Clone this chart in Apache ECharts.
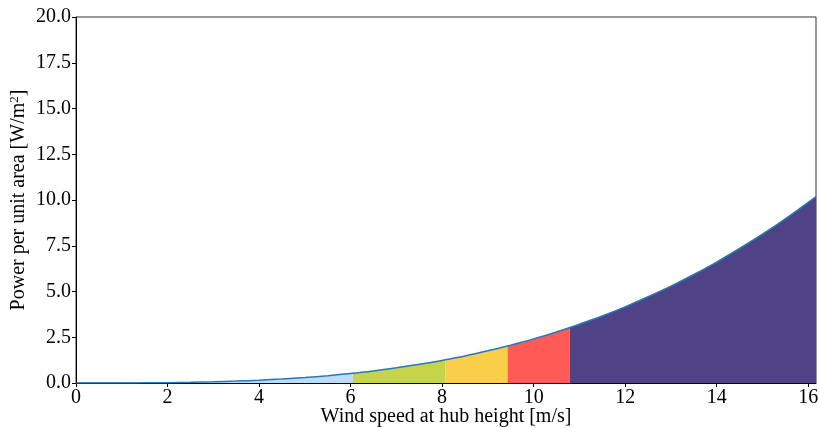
<!DOCTYPE html>
<html>
<head>
<meta charset="utf-8">
<script src="https://cdn.jsdelivr.net/npm/echarts@6/dist/echarts.min.js"></script>
<style>html,body{margin:0;padding:0;background:#fff}#c{width:819px;height:428px}</style>
</head>
<body>
<div id="c"></div>
<script>
// Wind speed [m/s] and power per unit area [W/m^2]
var windSpeed = [0, 0.5, 1, 1.5, 2, 2.5, 3, 3.5, 4, 4.5, 5, 5.5, 6, 6.05, 6.5, 7, 7.5, 8, 8.07, 8.5, 9, 9.43, 9.5, 10, 10.5, 10.79, 11, 11.5, 12, 12.5, 13, 13.5, 14, 14.5, 15, 15.5, 16, 16.17];
var power = [0, 0.0003, 0.002, 0.008, 0.019, 0.038, 0.065, 0.103, 0.154, 0.22, 0.30, 0.40, 0.52, 0.535, 0.66, 0.83, 1.02, 1.23, 1.27, 1.48, 1.76, 2.02, 2.07, 2.41, 2.79, 3.03, 3.21, 3.66, 4.16, 4.71, 5.29, 5.93, 6.61, 7.35, 8.13, 8.97, 9.87, 10.19];
// Band edges along the wind-speed axis
var bandEdges = [0, 6.05, 8.07, 9.43, 10.79, 16.17];
var bandColors = ['#bcdcf7', '#c6d44a', '#fbce4a', '#fe5a56', '#4f4287'];
var xTicks = [0, 2, 4, 6, 8, 10, 12, 14, 16];
var yTicks = [0, 2.5, 5, 7.5, 10, 12.5, 15, 17.5, 20];

var chart = echarts.init(document.getElementById('c'), null, {renderer: 'canvas'});
var font = 'Liberation Serif';
var curve = windSpeed.map(function (v, i) { return [v, power[i]]; });
var series = [];
for (var b = 0; b < bandColors.length; b++) {
  var lo = bandEdges[b], hi = bandEdges[b + 1];
  series.push({
    type: 'line',
    data: curve.filter(function (p) { return p[0] >= lo - 1e-9 && p[0] <= hi + 1e-9; }),
    smooth: 0.3,
    symbol: 'none',
    lineStyle: {width: 0},
    areaStyle: {color: bandColors[b], opacity: 1},
    silent: true,
    z: 1
  });
}
series.push({
  type: 'line',
  data: curve,
  smooth: 0.3,
  symbol: 'none',
  lineStyle: {width: 1.5, color: '#2878b8'},
  z: 3
});

chart.setOption({
  animation: false,
  backgroundColor: '#fff',
  grid: {left: 76, right: 3, top: 17, bottom: 45, outerBoundsMode: 'none', containLabel: false,
    show: true, borderColor: '#333', borderWidth: 1, backgroundColor: 'transparent'},
  xAxis: {
    type: 'value', min: xTicks[0], max: bandEdges[bandEdges.length - 1], interval: 2,
    name: 'Wind speed at hub height [m/s]', nameLocation: 'middle', nameGap: 24, nameMoveOverlap: false,
    nameTextStyle: {fontFamily: font, fontSize: 20, color: '#000'},
    axisLine: {show: true, lineStyle: {color: '#000', width: 1}},
    axisTick: {show: true, inside: false, length: 4, lineStyle: {color: '#000'}},
    axisLabel: {fontFamily: font, fontSize: 20, color: '#000', margin: 5, showMaxLabel: false,
      formatter: function (v) { return xTicks.indexOf(v) >= 0 ? String(v) : ''; }},
    splitLine: {show: false}
  },
  yAxis: {
    type: 'value', min: yTicks[0], max: yTicks[yTicks.length - 1], interval: 2.5,
    name: 'Power per unit area [W/m{sup|2}]', nameLocation: 'middle', nameGap: 46, nameMoveOverlap: false,
    nameTextStyle: {fontFamily: font, fontSize: 20, color: '#000',
      rich: {sup: {fontFamily: font, fontSize: 13, color: '#000', verticalAlign: 'top', padding: [0, 0, 9, 0]}}},
    axisLine: {show: true, lineStyle: {color: '#000', width: 1}},
    axisTick: {show: true, inside: false, length: 4, lineStyle: {color: '#000'}},
    axisLabel: {fontFamily: font, fontSize: 20, color: '#000', margin: 5,
      formatter: function (v) { return v.toFixed(1); }},
    splitLine: {show: false}
  },
  series: series
});
</script>
</body>
</html>
